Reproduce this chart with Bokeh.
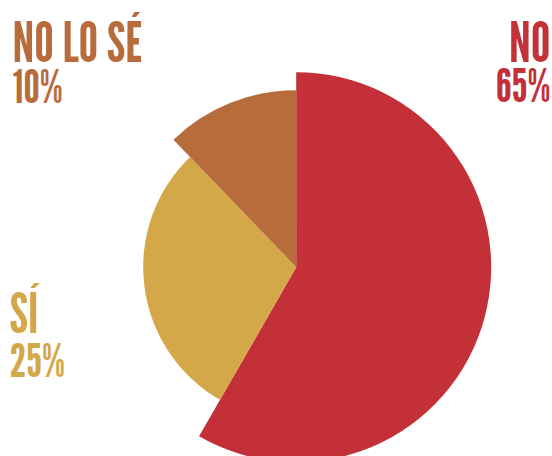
import math
from bokeh.plotting import figure
from bokeh.models import Range1d, ColumnDataSource
from bokeh.core.properties import value
from bokeh.embed import file_html
from bokeh.resources import INLINE

# Data
categories = ["NO", "SÍ", "NO LO SÉ"]
percent_labels = ["65%", "25%", "10%"]
# slice angular shares as drawn (percent of full circle)
slice_shares = [58.3, 29.5, 12.2]
# slice radii as drawn
slice_radii = [195, 153, 177]
colors = ["#C43038", "#D4A848", "#B86C3C"]

W, H = 552, 456
p = figure(width=W, height=H, output_backend="svg", toolbar_location=None,
           x_range=Range1d(0, W), y_range=Range1d(0, H), min_border=0)
p.axis.visible = False
p.grid.visible = False
p.outline_line_color = None
p.background_fill_color = "white"
p.border_fill_color = "white"

cx, cy = 295.7, H - 266.7
starts, ends = [], []
a = 90.0
for s in slice_shares:
    starts.append(math.radians(a))
    a -= s / 100 * 360
    ends.append(math.radians(a))

src = ColumnDataSource(dict(x=[cx] * 3, y=[cy] * 3, r=slice_radii,
                            start=starts, end=ends, color=colors))
p.wedge(x="x", y="y", radius="r", start_angle="start", end_angle="end",
        direction="clock", fill_color="color", line_color=None, source=src)

font = value("'League Gothic', 'Bebas Neue', 'Oswald', sans-serif")
TS, PS = 55, 46
# label layout in page pixels: (x, title baseline, pct baseline, align)
layout = {
    "NO": (550, 63, 103, "right"),
    "SÍ": (9, 334, 378, "left"),
    "NO LO SÉ": (12, 63, 104, "left"),
}
for cat, pct, col in zip(categories, percent_labels, colors):
    x, bt, bp, al = layout[cat]
    p.text(x=[x], y=[H - (bt - 0.4 * TS)], text=[cat], text_font=font,
           text_font_size=f"{TS}px", text_color=col, text_align=al,
           text_baseline="alphabetic")
    p.text(x=[x], y=[H - (bp - 0.4 * PS)], text=[pct], text_font=font,
           text_font_size=f"{PS}px", text_color=col, text_align=al,
           text_baseline="alphabetic")

open("out.html", "w").write(file_html(p, INLINE))
